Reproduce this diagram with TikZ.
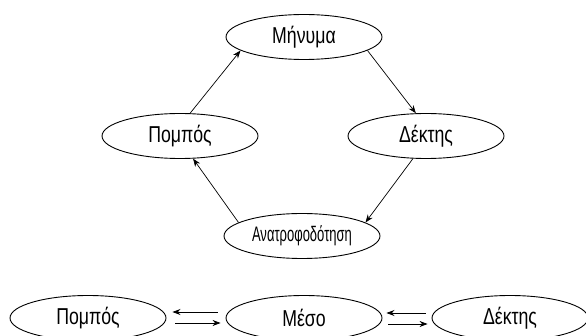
\documentclass[tikz,border=0pt]{standalone}
\usepackage{fontspec}
\setmainfont{Liberation Sans}[FakeStretch=0.77]
\newfontfamily\tightfont{Liberation Sans}[FakeStretch=0.62]
\usetikzlibrary{calc,arrows.meta,shapes.geometric}

\tikzset{
  blob/.style={draw, ellipse, line width=0.9pt, minimum width=156pt,
    minimum height=45pt, inner sep=0pt, font=\fontsize{23}{23}\selectfont},
  flow/.style={-{Stealth[length=8pt,width=6pt]}, line width=0.7pt}
}

\begin{document}
\begin{tikzpicture}[x=1pt, y=-1pt]
  \useasboundingbox (0,0) rectangle (586,336);
  \clip (0,0) rectangle (586,336);

  % the loop
  \node[blob] (minima) at (304,37)  {Μήνυμα};
  \node[blob] (pompos) at (180,136) {Πομπός};
  \node[blob] (dektis) at (426,136) {Δέκτης};
  \node[blob, font=\tightfont\fontsize{21}{21}\selectfont] (anatro) at (302,236) {Ανατροφοδότηση};

  \draw[flow] (pompos.66)  -- (minima.192);
  \draw[flow] (minima.348) -- (dektis.114);
  \draw[flow] (dektis.240) -- (anatro.12);
  \draw[flow] (anatro.168) -- (pompos.300);

  % the channel
  \node[blob] (pomposB) at (88,318)  {Πομπός};
  \node[blob] (meso)    at (304,318) {Μέσο};
  \node[blob] (dektisB) at (510,318) {Δέκτης};

  \draw[flow] ([shift={(-8,-6)}]meso.west)    -- ([shift={(6,-6)}]pomposB.east);
  \draw[flow] ([shift={(9,5)}]pomposB.east)   -- ([shift={(-5,5)}]meso.west);
  \draw[flow] ([shift={(-6,-5)}]dektisB.west) -- ([shift={(4,-5)}]meso.east);
  \draw[flow] ([shift={(6,6)}]meso.east)      -- ([shift={(-4,6)}]dektisB.west);
\end{tikzpicture}
\end{document}
